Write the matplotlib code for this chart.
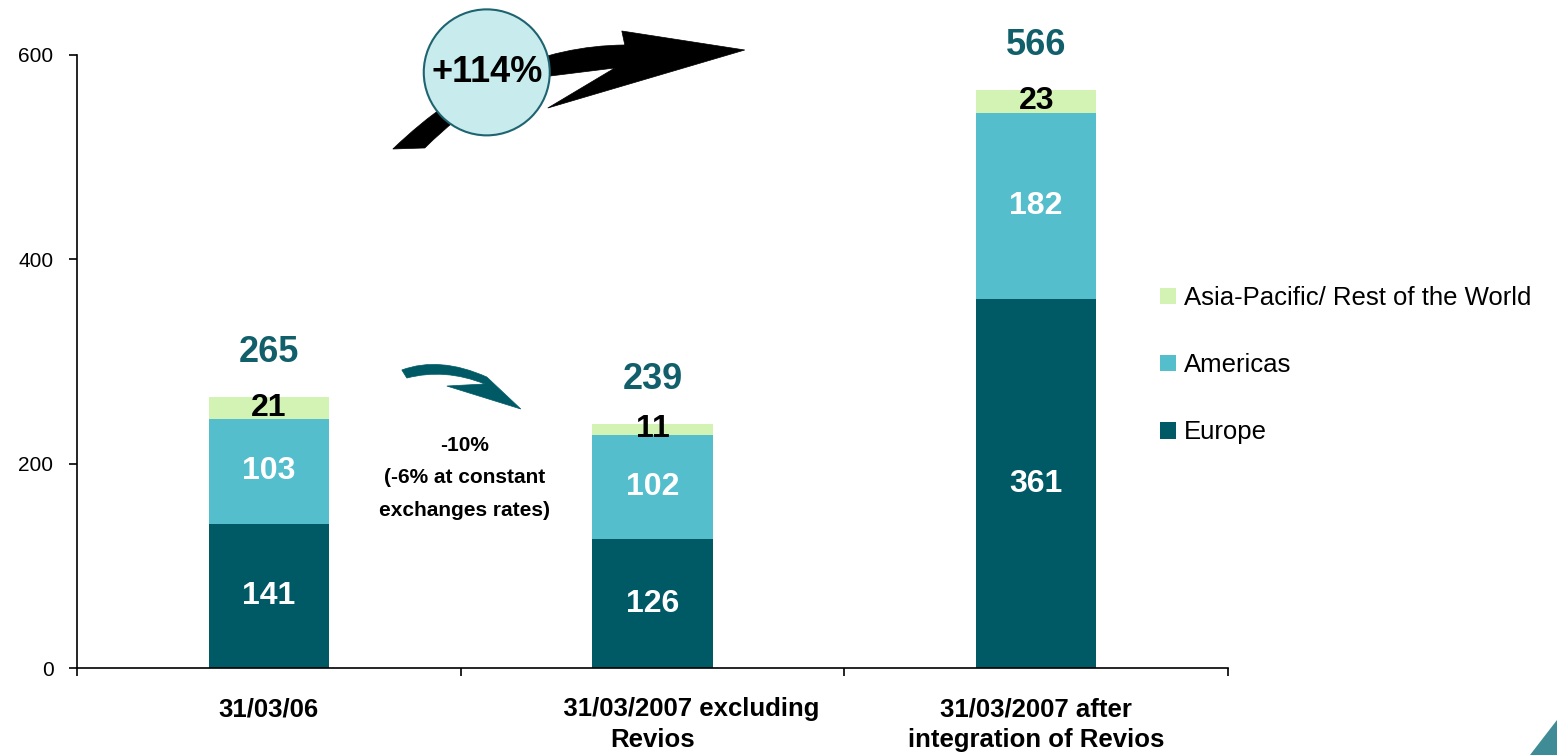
import matplotlib
matplotlib.use("Agg")
import matplotlib.pyplot as plt
from matplotlib.patches import Ellipse, Polygon, PathPatch
from matplotlib.path import Path
import numpy as np

plt.rcParams['font.family'] = ['Liberation Sans', 'DejaVu Sans']

# Data
categories = ["31/03/06",
              "           31/03/2007 excluding\nRevios",
              "31/03/2007 after\nintegration of Revios"]
europe = [141, 126, 361]
americas = [103, 102, 182]
asia_row = [21, 11, 23]
totals = [265, 239, 566]
series_names = ["Europe", "Americas", "Asia-Pacific/ Rest of the World"]
growth_label = "+114%"
change_label = "-10%\n(-6% at constant\nexchanges rates)"

c_europe = "#005A66"
c_americas = "#55BECC"
c_asia = "#D3F3B4"
c_total = "#115F6B"

fig = plt.figure(figsize=(15.57, 7.55), dpi=100)
ax = fig.add_axes([77 / 1557, 87 / 755, (1228 - 77) / 1557, (668 - 55) / 755])

x = np.arange(len(categories))
w = 0.313
b1 = ax.bar(x, europe, w, color=c_europe, label=series_names[0], zorder=2)
b2 = ax.bar(x, americas, w, bottom=europe, color=c_americas, label=series_names[1], zorder=2)
bottom3 = np.array(europe) + np.array(americas)
b3 = ax.bar(x, asia_row, w, bottom=bottom3, color=c_asia, label=series_names[2], zorder=2)

# Segment labels and totals
for i in range(len(x)):
    ax.text(x[i], europe[i] / 2, str(europe[i]), ha="center", va="center",
            color="white", fontsize=23, fontweight="bold", zorder=3)
    ax.text(x[i], europe[i] + americas[i] / 2, str(americas[i]), ha="center", va="center",
            color="white", fontsize=23, fontweight="bold", zorder=3)
    ax.text(x[i], bottom3[i] + asia_row[i] / 2, str(asia_row[i]), ha="center", va="center",
            color="black", fontsize=23, fontweight="bold", zorder=3)
    ax.annotate(str(totals[i]), (x[i], totals[i]), xytext=(0, 32), textcoords="offset points",
                ha="center", va="center", color=c_total, fontsize=26, fontweight="bold",
                annotation_clip=False)

ax.set_xlim(-0.5, 2.5)
ax.set_ylim(0, 600)
ax.set_yticks([0, 200, 400, 600])
ax.tick_params(axis="y", labelsize=15, length=6, width=1.2, pad=11, direction="out")
ax.set_xticks([-0.5, 0.5, 1.5, 2.5])
ax.set_xticklabels([])
ax.tick_params(axis="x", which="major", length=6, width=1.2, direction="out")
ax.set_xticks(x, minor=True)
ax.set_xticklabels(categories, minor=True, fontsize=18.5, fontweight="bold", linespacing=1.37)
ax.tick_params(axis="x", which="minor", length=0, pad=21)
for s in ["top", "right"]:
    ax.spines[s].set_visible(False)
for s in ["left", "bottom"]:
    ax.spines[s].set_linewidth(1.2)

# Growth arrow (curved block arrow with swept-back lower barb), in data units
M, L, C, Z = Path.MOVETO, Path.LINETO, Path.CURVE3, Path.CLOSEPOLY
growth_arrow = [
    ((0.3232, 508.0), M),   # tail, upper corner
    ((0.4066, 509.0), L),   # tail, lower corner
    ((0.5734, 571.6), C), ((0.7323, 579.4), C),
    ((0.9018, 587.3), L),   # lower notch
    ((0.7271, 548.1), L),   # lower barb
    ((1.2405, 604.9), L),   # tip
    ((0.9200, 623.5), L),   # upper barb
    ((0.9278, 609.8), L),   # upper notch
    ((0.6020, 608.8), C), ((0.3232, 508.0), C),
    ((0.3232, 508.0), Z),
]
verts, codes = zip(*growth_arrow)
ax.add_patch(PathPatch(Path(verts, codes), facecolor="black", edgecolor="black",
                       linewidth=0.5, clip_on=False, zorder=4))

badge = Ellipse((0.568, 583), width=2 * 63 / 383.7, height=2 * 63 / 1.0217,
                facecolor="#C8EBEE", edgecolor="#1E6470", linewidth=1.5,
                clip_on=False, zorder=5)
ax.add_patch(badge)
ax.text(0.568, 583, growth_label, ha="center", va="center", fontsize=26,
        fontweight="bold", color="black", zorder=6)

# Decline arrow and note
decline_arrow = [
    ((0.3466, 291.7), M),   # tail, upper corner
    ((0.3597, 283.8), L),   # tail, lower corner
    ((0.4587, 293.6), C), ((0.5629, 278.0), C),
    ((0.4639, 276.0), L),   # lower barb
    ((0.6568, 253.5), L),   # tip
    ((0.5682, 284.8), L),   # upper barb
    ((0.4457, 305.4), C), ((0.3466, 291.7), C),
    ((0.3466, 291.7), Z),
]
verts, codes = zip(*decline_arrow)
ax.add_patch(PathPatch(Path(verts, codes), facecolor=c_europe, edgecolor=c_europe,
                       linewidth=0.5, clip_on=False, zorder=4))
ax.text(0.51, 186, change_label, ha="center", va="center", fontsize=15,
        fontweight="bold", color="black", linespacing=1.9, zorder=4)

# Legend
leg = fig.legend(handles=[b3, b2, b1], labels=[series_names[2], series_names[1], series_names[0]],
                 loc="upper left", bbox_to_anchor=(1160 / 1557, 1 - 286 / 755),
                 frameon=False, fontsize=18.5, handlelength=0.62, handleheight=0.62,
                 handletextpad=0.3, labelspacing=1.68, borderpad=0, borderaxespad=0)

# Corner accent
fig.patches.append(Polygon([[1530 / 1557, 0], [1, 35 / 755], [1, 0]], closed=True,
                           transform=fig.transFigure, facecolor="#3F8C96",
                           edgecolor="none", figure=fig))

fig.savefig("out.png", dpi=100)
